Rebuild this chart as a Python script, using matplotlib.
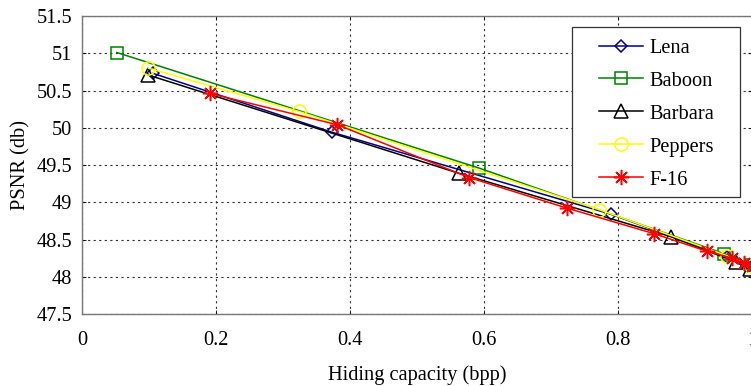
import matplotlib.pyplot as plt
from matplotlib.patches import Rectangle

# Hiding capacity (bpp) vs PSNR (db) for each test image
lena_bpp = [0.106, 0.373, 0.789, 0.963, 0.995]
lena_psnr = [50.73, 49.94, 48.84, 48.27, 48.15]

baboon_bpp = [0.052, 0.592, 0.958, 0.998]
baboon_psnr = [51.01, 49.46, 48.31, 48.16]

barbara_bpp = [0.098, 0.562, 0.878, 0.975, 0.997]
barbara_psnr = [50.71, 49.39, 48.54, 48.20, 48.10]

peppers_bpp = [0.099, 0.323, 0.772, 0.963, 0.998]
peppers_psnr = [50.80, 50.22, 48.90, 48.28, 48.15]

f16_bpp = [0.191, 0.381, 0.578, 0.724, 0.853, 0.933, 0.970, 0.988, 1.0]
f16_psnr = [50.46, 50.04, 49.33, 48.92, 48.58, 48.34, 48.25, 48.18, 48.14]

x_ticks = [0, 0.2, 0.4, 0.6, 0.8, 1.0]
x_tick_labels = ['0', '0.2', '0.4', '0.6', '0.8', '1']
y_ticks = [47.5, 48, 48.5, 49, 49.5, 50, 50.5, 51, 51.5]
y_tick_labels = ['47.5', '48', '48.5', '49', '49.5', '50', '50.5', '51', '51.5']

plt.rcParams['font.family'] = ['Liberation Serif', 'DejaVu Serif']
fs = 14.7

fig = plt.figure(figsize=(7.51, 3.86), dpi=100)
ax = fig.add_axes([0.1092, 0.1865, 0.8925, 0.772])

asterisk = (8, 2, 0)
ax.plot(lena_bpp, lena_psnr, color='#00008B', marker='D', markersize=6.5,
        markerfacecolor='none', markeredgewidth=1.1, linewidth=1.1, label='Lena')
ax.plot(baboon_bpp, baboon_psnr, color='#008000', marker='s', markersize=9,
        markerfacecolor='none', markeredgewidth=1.1, linewidth=1.1, label='Baboon')
ax.plot(barbara_bpp, barbara_psnr, color='black', marker='^', markersize=9.5,
        markerfacecolor='none', markeredgewidth=1.1, linewidth=1.1, label='Barbara')
ax.plot(peppers_bpp, peppers_psnr, color='#FFFF00', marker='o', markersize=9.5,
        markerfacecolor='none', markeredgewidth=1.1, linewidth=1.1, label='Peppers')
ax.plot(f16_bpp, f16_psnr, color='#FF0000', marker=asterisk, markersize=11,
        markeredgewidth=1.1, linewidth=1.1, label='F-16')

ax.set_xlim(0, 1)
ax.set_ylim(47.5, 51.5)
ax.set_xticks(x_ticks)
ax.set_xticklabels(x_tick_labels)
ax.set_yticks(y_ticks)
ax.set_yticklabels(y_tick_labels)
ax.tick_params(direction='in', length=3, width=0.6, labelsize=fs,
               top=True, right=True)
ax.tick_params(axis='x', pad=12)
ax.tick_params(axis='y', pad=7)

ax.grid(True, linestyle=(0, (2, 3)), color='#333333', linewidth=0.8)
for spine in ax.spines.values():
    spine.set_color('#777777')
    spine.set_linewidth(1.0)

ax.set_xlabel('Hiding capacity (bpp)', fontsize=fs, labelpad=11)
ax.set_ylabel('PSNR (db)', fontsize=fs, labelpad=4)

# legend frame drawn separately so it keeps wide side margins
ax.add_patch(Rectangle((0.731, 0.393), 0.251, 0.570, transform=ax.transAxes,
                       facecolor='white', edgecolor='#333333', linewidth=0.9,
                       zorder=4))
ax.legend(loc='upper left', bbox_to_anchor=(0.772, 0.925), borderaxespad=0,
          frameon=False, fontsize=fs, handlelength=2.15, handletextpad=0.3,
          labelspacing=0.67, borderpad=0).set_zorder(5)

fig.savefig('out.png', dpi=100)
